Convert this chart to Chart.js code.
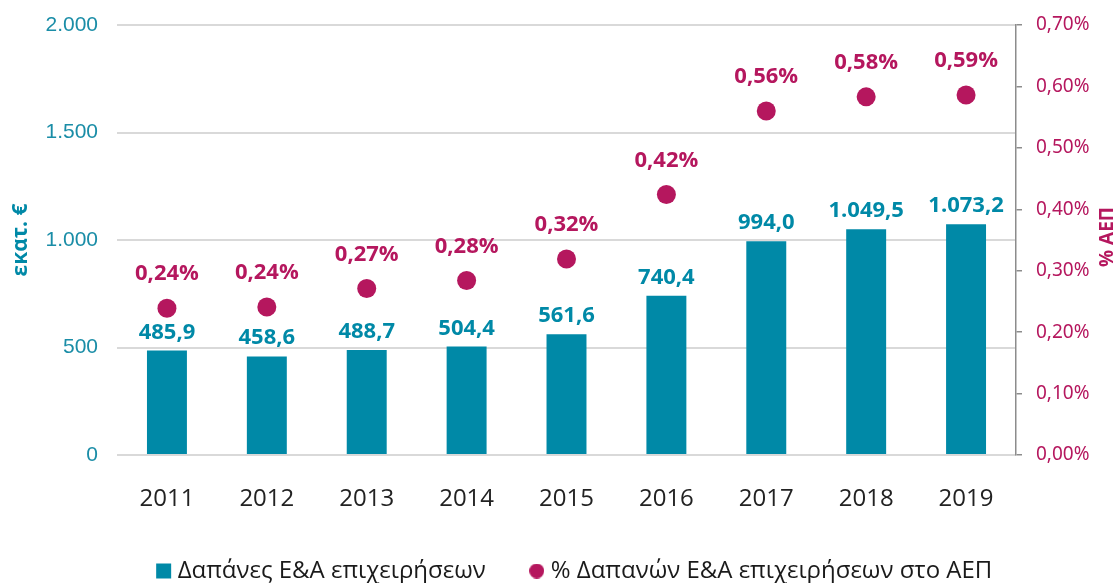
<!DOCTYPE html>
<html lang="el">
<head>
<meta charset="utf-8">
<script src="https://cdn.jsdelivr.net/npm/chart.js@4.4.0/dist/chart.umd.min.js"></script>
<style>
html, body { margin: 0; padding: 0; background: #fff; }
#wrap { width: 1120px; height: 583px; }
</style>
</head>
<body>
<div id="wrap"><canvas id="rdChart"></canvas></div>
<script>
// data
const years = ['2011', '2012', '2013', '2014', '2015', '2016', '2017', '2018', '2019'];
const spending = [485.9, 458.6, 488.7, 504.4, 561.6, 740.4, 994.0, 1049.5, 1073.2];
// % of GDP (already in percent)
const gdpShare = [0.239, 0.241, 0.271, 0.284, 0.319, 0.424, 0.560, 0.583, 0.586];
const leftTicks = [0, 500, 1000, 1500, 2000];
const rightTicks = [0, 0.1, 0.2, 0.3, 0.4, 0.5, 0.6, 0.7];

const TEAL = '#0089a7';
const MAGENTA = '#b5175e';

// greek number format: 1.049,5
function fmt(v, dec) {
    let s = v.toFixed(dec);
    let parts = s.split('.');
    parts[0] = parts[0].replace(/\B(?=(\d{3})+(?!\d))/g, '.');
    return parts.join(',');
}

// small circle for the legend
function dot(d, color) {
    const c = document.createElement('canvas');
    c.width = d; c.height = d;
    const g = c.getContext('2d');
    g.fillStyle = color;
    g.beginPath();
    g.arc(d / 2, d / 2, d / 2, 0, Math.PI * 2);
    g.fill();
    return c;
}
const legendDot = dot(15, MAGENTA);

// value labels above bars and points
const valueLabels = {
    id: 'valueLabels',
    afterDatasetsDraw(chart) {
        const ctx = chart.ctx;
        ctx.save();
        ctx.textAlign = 'center';
        ctx.textBaseline = 'alphabetic';
        ctx.font = 'bold 22px "Open Sans"';
        chart.data.datasets.forEach((ds, i) => {
            const meta = chart.getDatasetMeta(i);
            meta.data.forEach((el, j) => {
                if (ds.type === 'line') {
                    ctx.fillStyle = MAGENTA;
                    ctx.fillText(fmt(ds.data[j], 2) + '%', el.x, el.y - 28);
                } else {
                    ctx.fillStyle = TEAL;
                    ctx.fillText(fmt(ds.data[j], 1), el.x, el.y - 12);
                }
            });
        });
        ctx.restore();
    }
};

// rotated axis titles
const axisTitles = {
    id: 'axisTitles',
    afterDraw(chart) {
        const ctx = chart.ctx;
        const a = chart.chartArea;
        const cy = (a.top + a.bottom) / 2;
        ctx.save();
        ctx.textAlign = 'center';
        ctx.textBaseline = 'middle';

        ctx.save();
        ctx.font = 'bold 21px "Open Sans"';
        ctx.translate(21, cy);
        ctx.rotate(-Math.PI / 2);
        ctx.fillStyle = TEAL;
        ctx.fillText('εκατ. €', 0, 0);
        ctx.restore();

        ctx.save();
        ctx.font = 'bold 19px "Open Sans"';
        ctx.translate(1108, cy - 3);
        ctx.rotate(-Math.PI / 2);
        ctx.fillStyle = MAGENTA;
        ctx.fillText('% ΑΕΠ', 0, 0);
        ctx.restore();

        ctx.restore();
    }
};

// keep the vertical scales from pushing the chart area down
function noPad(scale) {
    scale.paddingTop = 0;
    scale.paddingBottom = 0;
}

const ctx = document.getElementById('rdChart').getContext('2d');
const rdChart = new Chart(ctx, {
    data: {
        labels: years,
        datasets: [
            {
                type: 'line',
                label: '% Δαπανών Ε&Α επιχειρήσεων στο ΑΕΠ',
                data: gdpShare,
                yAxisID: 'y1',
                showLine: false,
                pointRadius: 9.5,
                pointHoverRadius: 9.5,
                pointBackgroundColor: MAGENTA,
                pointBorderWidth: 0,
                backgroundColor: MAGENTA,
                borderColor: MAGENTA,
                order: 0
            },
            {
                type: 'bar',
                label: 'Δαπάνες Ε&Α επιχειρήσεων',
                data: spending,
                yAxisID: 'y',
                backgroundColor: TEAL,
                barPercentage: 0.4,
                categoryPercentage: 1.0,
                order: 1
            }
        ]
    },
    options: {
        responsive: true,
        maintainAspectRatio: false,
        animation: false,
        layout: {
            padding: { top: 25, left: 34, right: 0, bottom: -10 }
        },
        plugins: {
            tooltip: { enabled: false },
            legend: {
                position: 'bottom',
                reverse: true,
                labels: {
                    usePointStyle: true,
                    boxWidth: 4,
                    boxHeight: 15,
                    padding: 49,
                    color: '#1a1a1a',
                    font: { family: '"Open Sans"', size: 24 },
                    generateLabels(chart) {
                        const items = Chart.defaults.plugins.legend.labels.generateLabels(chart);
                        items.forEach(it => {
                            it.pointStyle = it.datasetIndex === 0 ? legendDot : 'rect';
                            it.lineWidth = 0;
                        });
                        return items;
                    }
                }
            }
        },
        scales: {
            x: {
                grid: { display: false },
                border: { display: false },
                ticks: {
                    color: '#222',
                    padding: 22,
                    font: { family: '"Open Sans"', size: 24 }
                },
                afterFit(scale) { scale.height = 55; }
            },
            y: {
                position: 'left',
                min: leftTicks[0],
                max: leftTicks[leftTicks.length - 1],
                afterBuildTicks(scale) { scale.ticks = leftTicks.map(v => ({ value: v })); },
                grid: { color: '#d9d9d9', lineWidth: 2, drawTicks: false },
                border: { display: false },
                ticks: {
                    color: '#1a8da7',
                    padding: 19,
                    font: { family: '"Liberation Sans"', size: 21 },
                    callback: v => fmt(v, 0)
                },
                afterFit(scale) { scale.width = 83; noPad(scale); }
            },
            y1: {
                position: 'right',
                min: rightTicks[0],
                max: rightTicks[rightTicks.length - 1],
                afterBuildTicks(scale) { scale.ticks = rightTicks.map(v => ({ value: v })); },
                grid: { drawOnChartArea: false, drawTicks: true, tickLength: 6, color: '#8c8c8c', lineWidth: 1.5 },
                border: { display: true, color: '#8c8c8c', width: 1.5 },
                ticks: {
                    color: MAGENTA,
                    padding: 14,
                    font: { family: '"Noto Sans"', size: 19 },
                    callback: v => fmt(v, 2) + '%'
                },
                afterFit(scale) { scale.width = 104; noPad(scale); }
            }
        }
    },
    plugins: [valueLabels, axisTitles]
});
</script>
</body>
</html>
